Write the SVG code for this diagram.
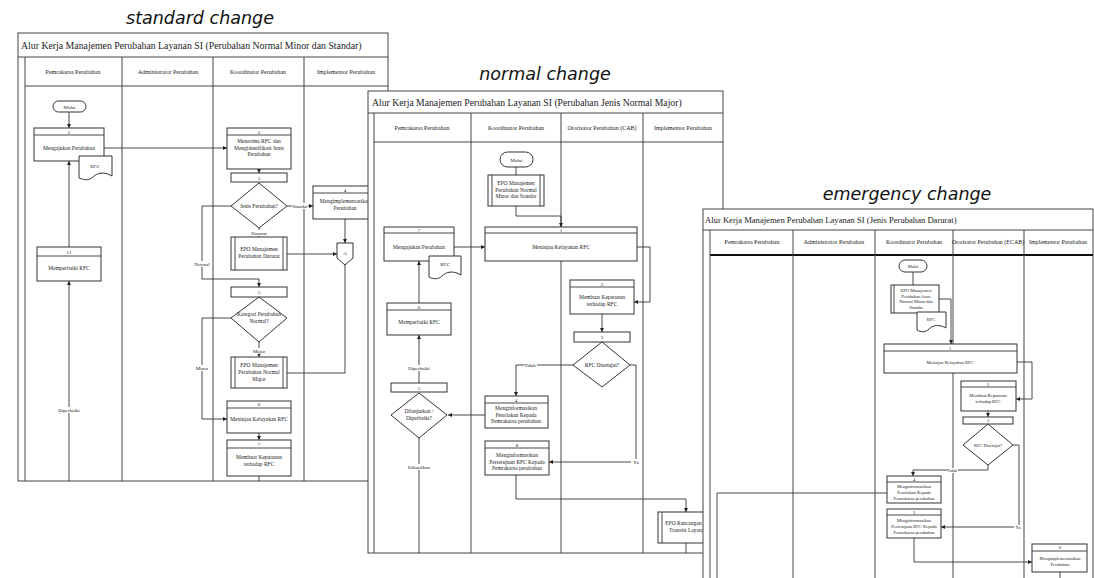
<svg xmlns="http://www.w3.org/2000/svg" width="1094" height="578" viewBox="0 0 1094 578">
  <defs>
    <marker id="ah" viewBox="0 0 6 6" refX="6" refY="3" markerWidth="4" markerHeight="4" orient="auto" markerUnits="userSpaceOnUse">
      <path d="M0,0 L6,3 L0,6 Z" fill="#222"/>
    </marker>
    <style>
      .frame{fill:#fff;stroke:#444;stroke-width:1}
      .ln{fill:none;stroke:#444;stroke-width:1}
      .thick{fill:none;stroke:#111;stroke-width:2}
      .box{fill:#fff;stroke:#333;stroke-width:1}
      .cn{fill:none;stroke:#333;stroke-width:0.9}
      .arr{marker-end:url(#ah)}
      .heading{font-family:"DejaVu Sans",Verdana,sans-serif;font-style:italic;font-size:17.5px;fill:#111;text-anchor:middle}
      .ttl{font-family:"Liberation Serif","Times New Roman",serif;fill:#222}
      .lane{font-family:"Liberation Serif","Times New Roman",serif;font-size:6px;fill:#222;text-anchor:middle}
      .t{font-family:"Liberation Serif","Times New Roman",serif;font-size:5.5px;fill:#222;text-anchor:middle}
      .ts{font-family:"Liberation Serif","Times New Roman",serif;font-size:4.5px;fill:#222;text-anchor:middle}
      .lbl{font-family:"Liberation Serif","Times New Roman",serif;font-size:5px;fill:#222;text-anchor:middle}
      .bg{fill:#fff}
    </style>
  </defs>

  <rect width="1094" height="578" fill="#fff"/>

  <!-- ============ standard change ============ -->
  <g id="page-standard">
    <text class="heading" x="200" y="24">standard change</text>
    <rect class="frame" x="18" y="33" width="370" height="448"/>
    <line class="ln" x1="18" y1="57" x2="388" y2="57"/>
    <line class="ln" x1="25" y1="86" x2="388" y2="86"/>
    <line class="ln" x1="25" y1="57" x2="25" y2="481"/>
    <line class="ln" x1="122" y1="57" x2="122" y2="481"/>
    <line class="ln" x1="213" y1="57" x2="213" y2="481"/>
    <line class="ln" x1="304" y1="57" x2="304" y2="481"/>
    <text class="ttl" x="21" y="49" font-size="9.8">Alur Kerja Manajemen Perubahan Layanan SI (Perubahan Normal Minor dan Standar)</text>
    <text class="lane" x="73" y="74">Pemrakarsa Perubahan</text>
    <text class="lane" x="168" y="74">Administrator Perubahan</text>
    <text class="lane" x="258" y="74">Koordinator Perubahan</text>
    <text class="lane" x="346" y="74">Implementor Perubahan</text>

    <g id="a-connectors">
      <line class="cn arr" x1="69" y1="112" x2="69" y2="128"/>
      <line class="cn arr" x1="104" y1="148" x2="227" y2="148"/>
      <line class="cn arr" x1="259" y1="169" x2="259" y2="173"/>
      <line class="cn arr" x1="287" y1="206" x2="313" y2="206"/>
      <line class="cn arr" x1="259" y1="228" x2="259" y2="237"/>
      <line class="cn arr" x1="287" y1="254" x2="337" y2="254"/>
      <line class="cn arr" x1="345" y1="219" x2="345" y2="243"/>
      <polyline class="cn" points="345,265 345,373 287,373"/>
      <polyline class="cn arr" points="231,206 202,206 202,279 259,279 259,287"/>
      <polyline class="cn arr" points="231,318 202,318 202,419 227,419"/>
      <line class="cn arr" x1="259" y1="342" x2="259" y2="357"/>
      <line class="cn arr" x1="259" y1="433" x2="259" y2="440"/>
      <line class="cn" x1="259" y1="476" x2="259" y2="481"/>
      <line class="cn arr" x1="69" y1="481" x2="69" y2="281"/>
      <line class="cn arr" x1="69" y1="247" x2="69" y2="161"/>
      <rect class="bg" x="292" y="203" width="16" height="6"/>
      <text class="lbl" x="300" y="208">Standar</text>
      <rect class="bg" x="251" y="230" width="16" height="6"/>
      <text class="lbl" x="259" y="235">Darurat</text>
      <rect class="bg" x="195" y="261" width="15" height="6"/>
      <text class="lbl" x="202" y="266">Normal</text>
      <rect class="bg" x="196" y="365" width="13" height="6"/>
      <text class="lbl" x="202" y="370">Minor</text>
      <rect class="bg" x="252" y="348" width="14" height="6"/>
      <text class="lbl" x="259" y="353">Major</text>
      <rect class="bg" x="59" y="407" width="20" height="6"/>
      <text class="lbl" x="69" y="412">Diperbaiki</text>
    </g>

    <g id="a-mulai">
      <rect class="box" x="53" y="101" width="33" height="11" rx="5.5"/>
      <text class="lbl" x="69.5" y="108.5">Mulai</text>
    </g>
    <g id="a-1">
      <rect class="box" x="34" y="128" width="70" height="33"/>
      <line class="cn" x1="34" y1="135" x2="104" y2="135"/>
      <text class="lbl" x="69" y="133.5">1</text>
      <text class="t" x="69" y="150">Mengajukan Perubahan</text>
    </g>
    <g id="a-rfc">
      <path class="box" d="M79,156 H112 V176 C104,171 97,173 93,177 C89,181 84,180 79,178 Z"/>
      <text class="lbl" x="95" y="168">RFC</text>
    </g>
    <g id="a-2">
      <rect class="box" x="227" y="128" width="64" height="41"/>
      <line class="cn" x1="227" y1="135" x2="291" y2="135"/>
      <text class="lbl" x="259" y="133.5">2</text>
      <text class="t" x="259" y="143">Menerima RFC dan</text>
      <text class="t" x="259" y="149.5">Mengidentifikasi Jenis</text>
      <text class="t" x="259" y="156">Perubahan</text>
    </g>
    <g id="a-3">
      <rect class="box" x="231" y="173" width="56" height="9"/>
      <text class="lbl" x="259" y="179.5">3</text>
      <polygon class="box" points="259,183 287,206 259,228 231,206"/>
      <text class="t" x="259" y="208">Jenis Perubahan?</text>
    </g>
    <g id="a-4">
      <rect class="box" x="313" y="186" width="64" height="33"/>
      <line class="cn" x1="313" y1="193" x2="377" y2="193"/>
      <text class="lbl" x="345" y="191.5">4</text>
      <text class="t" x="345" y="203">Mengimplementasikan</text>
      <text class="t" x="345" y="210">Perubahan</text>
    </g>
    <g id="a-epo-darurat">
      <rect class="box" x="231" y="237" width="56" height="33"/>
      <line class="cn" x1="235" y1="237" x2="235" y2="270"/>
      <line class="cn" x1="283" y1="237" x2="283" y2="270"/>
      <text class="t" x="259" y="251">EPO Manajemen</text>
      <text class="t" x="259" y="258">Perubahan Darurat</text>
    </g>
    <g id="a-merge">
      <polygon class="box" points="337,243 353,243 353,258 345,265 337,258"/>
      <text class="lbl" x="345" y="255">A</text>
    </g>
    <g id="a-5">
      <rect class="box" x="231" y="287" width="56" height="10"/>
      <text class="lbl" x="259" y="294">5</text>
      <polygon class="box" points="259,297 287,318 259,342 231,318"/>
      <text class="t" x="259" y="316">Kategori Perubahan</text>
      <text class="t" x="259" y="323">Normal?</text>
    </g>
    <g id="a-epo-major">
      <rect class="box" x="231" y="357" width="56" height="31"/>
      <line class="cn" x1="235" y1="357" x2="235" y2="388"/>
      <line class="cn" x1="283" y1="357" x2="283" y2="388"/>
      <text class="t" x="259" y="367">EPO Manajemen</text>
      <text class="t" x="259" y="374">Perubahan Normal</text>
      <text class="t" x="259" y="381">Major</text>
    </g>
    <g id="a-6">
      <rect class="box" x="227" y="401" width="64" height="32"/>
      <line class="cn" x1="227" y1="408" x2="291" y2="408"/>
      <text class="lbl" x="259" y="406">6</text>
      <text class="t" x="259" y="421">Meninjau Kelayakan RFC</text>
    </g>
    <g id="a-7">
      <rect class="box" x="227" y="440" width="64" height="36"/>
      <line class="cn" x1="227" y1="448" x2="291" y2="448"/>
      <text class="lbl" x="259" y="446">7</text>
      <text class="t" x="259" y="459">Membuat Keputusan</text>
      <text class="t" x="259" y="465.5">terhadap RFC</text>
    </g>
    <g id="a-11">
      <rect class="box" x="37" y="247" width="64" height="34"/>
      <line class="cn" x1="37" y1="256" x2="101" y2="256"/>
      <text class="lbl" x="69" y="253.5">11</text>
      <text class="t" x="69" y="270">Memperbaiki RFC</text>
    </g>
  </g>

  <!-- ============ normal change ============ -->
  <g id="page-normal">
    <text class="heading" x="545" y="80">normal change</text>
    <rect class="frame" x="368" y="91" width="355" height="462"/>
    <line class="ln" x1="368" y1="113" x2="723" y2="113"/>
    <line class="ln" x1="374" y1="142" x2="723" y2="142"/>
    <line class="ln" x1="374" y1="113" x2="374" y2="553"/>
    <line class="ln" x1="471" y1="113" x2="471" y2="553"/>
    <line class="ln" x1="561" y1="113" x2="561" y2="553"/>
    <line class="ln" x1="643" y1="113" x2="643" y2="553"/>
    <text class="ttl" x="372" y="106" font-size="9.7">Alur Kerja Manajemen Perubahan Layanan SI (Perubahan Jenis Normal Major)</text>
    <text class="lane" x="422" y="130">Pemrakarsa Perubahan</text>
    <text class="lane" x="516" y="130">Koordinator Perubahan</text>
    <text class="lane" x="602" y="130">Otorisator Perubahan (CAB)</text>
    <text class="lane" x="683" y="130">Implementor Perubahan</text>

    <g id="b-connectors">
      <line class="cn" x1="516" y1="167" x2="516" y2="175"/>
      <polyline class="cn arr" points="516,206 516,216 561,216 561,227"/>
      <line class="cn arr" x1="454" y1="247" x2="485" y2="247"/>
      <polyline class="cn arr" points="637,247 650,247 650,302 634,302"/>
      <line class="cn arr" x1="602" y1="314" x2="602" y2="332"/>
      <polyline class="cn arr" points="573,365 516,365 516,396"/>
      <line class="cn arr" x1="485" y1="415" x2="448" y2="415"/>
      <line class="cn arr" x1="419" y1="383" x2="419" y2="335"/>
      <line class="cn arr" x1="419" y1="303" x2="419" y2="261"/>
      <line class="cn" x1="419" y1="438" x2="419" y2="553"/>
      <polyline class="cn arr" points="630,365 636,365 636,462 549,462"/>
      <polyline class="cn arr" points="516,475 516,499 686,499 686,512"/>
      <line class="cn" x1="686" y1="543" x2="686" y2="553"/>
      <rect class="bg" x="524" y="362" width="13" height="6"/>
      <text class="lbl" x="530" y="367">Tidak</text>
      <rect class="bg" x="631" y="459" width="9" height="6"/>
      <text class="lbl" x="636" y="464">Ya</text>
      <rect class="bg" x="408" y="365" width="21" height="6"/>
      <text class="lbl" x="419" y="370">Diperbaiki</text>
      <rect class="bg" x="407" y="464" width="24" height="6"/>
      <text class="lbl" x="419" y="469">Dibatalkan</text>
    </g>

    <g id="b-mulai">
      <rect class="box" x="500" y="152" width="33" height="15" rx="7.5"/>
      <text class="lbl" x="516.5" y="161.5">Mulai</text>
    </g>
    <g id="b-epo-minor">
      <rect class="box" x="488" y="175" width="56" height="31"/>
      <line class="cn" x1="492" y1="175" x2="492" y2="206"/>
      <line class="cn" x1="540" y1="175" x2="540" y2="206"/>
      <text class="t" x="516" y="185">EPO Manajemen</text>
      <text class="t" x="516" y="191.5">Perubahan Normal</text>
      <text class="t" x="516" y="198">Minor dan Standar</text>
    </g>
    <g id="b-1">
      <rect class="box" x="485" y="227" width="152" height="34"/>
      <line class="cn" x1="485" y1="233" x2="637" y2="233"/>
      <text class="lbl" x="561" y="231.5">1</text>
      <text class="t" x="561" y="249">Meninjau Kelayakan RFC</text>
    </g>
    <g id="b-7">
      <rect class="box" x="384" y="227" width="70" height="34"/>
      <line class="cn" x1="384" y1="233" x2="454" y2="233"/>
      <text class="lbl" x="419" y="231.5">7</text>
      <text class="t" x="419" y="249">Mengajukan Perubahan</text>
    </g>
    <g id="b-rfc">
      <path class="box" d="M429,256 H461 V275 C453,270 446,272 442,276 C438,280 433,279 429,277 Z"/>
      <text class="lbl" x="445" y="266">RFC</text>
    </g>
    <g id="b-2">
      <rect class="box" x="570" y="280" width="64" height="34"/>
      <line class="cn" x1="570" y1="287" x2="634" y2="287"/>
      <text class="lbl" x="602" y="285.5">2</text>
      <text class="t" x="602" y="299">Membuat Keputusan</text>
      <text class="t" x="602" y="305.5">terhadap RFC</text>
    </g>
    <g id="b-3">
      <rect class="box" x="574" y="332" width="56" height="10"/>
      <text class="lbl" x="602" y="339">3</text>
      <polygon class="box" points="602,342 630,365 602,387 573,365"/>
      <text class="t" x="602" y="367">RFC Disetujui?</text>
    </g>
    <g id="b-4">
      <rect class="box" x="485" y="396" width="63" height="32"/>
      <line class="cn" x1="485" y1="403" x2="548" y2="403"/>
      <text class="lbl" x="516" y="401.5">4</text>
      <text class="t" x="516" y="410">Menginformasikan</text>
      <text class="t" x="516" y="416.5">Penolakan Kepada</text>
      <text class="t" x="516" y="423">Pemrakarsa perubahan</text>
    </g>
    <g id="b-5">
      <rect class="box" x="391" y="383" width="56" height="9"/>
      <text class="lbl" x="419" y="389.5">5</text>
      <polygon class="box" points="419,393 447,415 419,438 391,415"/>
      <text class="t" x="419" y="413">Dilanjutkan /</text>
      <text class="t" x="419" y="420">Diperbaiki?</text>
    </g>
    <g id="b-6">
      <rect class="box" x="387" y="303" width="64" height="32"/>
      <line class="cn" x1="387" y1="310" x2="451" y2="310"/>
      <text class="lbl" x="419" y="308.5">6</text>
      <text class="t" x="419" y="324">Memperbaiki RFC</text>
    </g>
    <g id="b-8">
      <rect class="box" x="485" y="441" width="64" height="34"/>
      <line class="cn" x1="485" y1="448" x2="549" y2="448"/>
      <text class="lbl" x="517" y="446.5">8</text>
      <text class="t" x="517" y="457">Menginformasikan</text>
      <text class="t" x="517" y="463.5">Persetujuan RFC Kepada</text>
      <text class="t" x="517" y="470">Pemrakarsa perubahan</text>
    </g>
    <g id="b-epo-rancangan">
      <rect class="box" x="658" y="512" width="56" height="31"/>
      <line class="cn" x1="662" y1="512" x2="662" y2="543"/>
      <text class="t" x="688" y="525">EPO Rancangan dan</text>
      <text class="t" x="688" y="531.5">Transisi Layanan</text>
    </g>
  </g>

  <!-- ============ emergency change ============ -->
  <g id="page-emergency">
    <text class="heading" x="907" y="200">emergency change</text>
    <rect class="frame" x="703" y="209" width="390" height="380"/>
    <line class="ln" x1="703" y1="230" x2="1093" y2="230"/>
    <line class="thick" x1="710" y1="255" x2="1093" y2="255"/>
    <line class="ln" x1="710" y1="230" x2="710" y2="578"/>
    <line class="ln" x1="793" y1="230" x2="793" y2="578"/>
    <line class="ln" x1="875" y1="230" x2="875" y2="578"/>
    <line class="ln" x1="953" y1="230" x2="953" y2="578"/>
    <line class="ln" x1="1024" y1="230" x2="1024" y2="578"/>
    <text class="ttl" x="705" y="223" font-size="8.6">Alur Kerja Manajemen Perubahan Layanan SI (Jenis Perubahan Darurat)</text>
    <text class="lane" x="752" y="244" font-size="5.3">Pemrakarsa Perubahan</text>
    <text class="lane" x="834" y="244" font-size="5.3">Administrator Perubahan</text>
    <text class="lane" x="914" y="244" font-size="5.3">Koordinator Perubahan</text>
    <text class="lane" x="988" y="244" font-size="5.3">Otorisator Perubahan (ECAB)</text>
    <text class="lane" x="1058" y="244" font-size="5.3">Implementor Perubahan</text>

    <g id="c-connectors">
      <line class="cn" x1="913" y1="272" x2="913" y2="285"/>
      <polyline class="cn arr" points="939,299 951,299 951,344"/>
      <polyline class="cn arr" points="1017,362 1032,362 1032,399 1016,399"/>
      <line class="cn arr" x1="988" y1="411" x2="988" y2="417"/>
      <polyline class="cn arr" points="988,465 988,470 913,470 913,476"/>
      <polyline class="cn" points="887,493 717,493 717,578"/>
      <polyline class="cn arr" points="1013,445 1019,445 1019,527 941,527"/>
      <polyline class="cn arr" points="914,538 914,562 1032,562"/>
      <line class="cn" x1="1060" y1="572" x2="1060" y2="578"/>
      <rect class="bg" x="947" y="468" width="11" height="5"/>
      <text class="ts" x="952" y="472">Tidak</text>
      <rect class="bg" x="1014" y="525" width="8" height="5"/>
      <text class="ts" x="1018" y="529">Ya</text>
    </g>

    <g id="c-mulai">
      <rect class="box" x="899" y="260" width="28" height="12" rx="6"/>
      <text class="ts" x="913" y="267.5">Mulai</text>
    </g>
    <g id="c-epo-minor">
      <rect class="box" x="891" y="285" width="48" height="28"/>
      <line class="cn" x1="894" y1="285" x2="894" y2="313"/>
      <text class="ts" x="916" y="292">EPO Manajemen</text>
      <text class="ts" x="916" y="297.5">Perubahan Jenis</text>
      <text class="ts" x="916" y="303">Normal Minor dan</text>
      <text class="ts" x="916" y="308.5">Standar</text>
    </g>
    <g id="c-rfc">
      <path class="box" d="M917,312 H946 V328 C939,324 933,325 929,329 C925,333 921,332 917,330 Z"/>
      <text class="ts" x="931" y="321">RFC</text>
    </g>
    <g id="c-1">
      <rect class="box" x="884" y="344" width="133" height="29"/>
      <line class="cn" x1="884" y1="351" x2="1017" y2="351"/>
      <text class="ts" x="950" y="349.5">1</text>
      <text class="ts" x="950" y="364">Meninjau Kelayakan RFC</text>
    </g>
    <g id="c-2">
      <rect class="box" x="961" y="381" width="55" height="30"/>
      <line class="cn" x1="961" y1="387" x2="1016" y2="387"/>
      <text class="ts" x="988" y="385.5">2</text>
      <text class="ts" x="988" y="397">Membuat Keputusan</text>
      <text class="ts" x="988" y="403">terhadap RFC</text>
    </g>
    <g id="c-3">
      <rect class="box" x="963" y="417" width="50" height="7"/>
      <text class="ts" x="988" y="422">3</text>
      <polygon class="box" points="988,424 1013,445 988,465 963,445"/>
      <text class="ts" x="988" y="446.5">RFC Disetujui?</text>
    </g>
    <g id="c-4">
      <rect class="box" x="887" y="476" width="54" height="27"/>
      <line class="cn" x1="887" y1="482" x2="941" y2="482"/>
      <text class="ts" x="914" y="480.5">4</text>
      <text class="ts" x="914" y="488">Menginformasikan</text>
      <text class="ts" x="914" y="494">Penolakan Kepada</text>
      <text class="ts" x="914" y="500">Pemrakarsa perubahan</text>
    </g>
    <g id="c-5">
      <rect class="box" x="887" y="509" width="54" height="29"/>
      <line class="cn" x1="887" y1="515" x2="941" y2="515"/>
      <text class="ts" x="914" y="513.5">5</text>
      <text class="ts" x="914" y="522">Menginformasikan</text>
      <text class="ts" x="914" y="528">Persetujuan RFC Kepada</text>
      <text class="ts" x="914" y="534">Pemrakarsa perubahan</text>
    </g>
    <g id="c-6">
      <rect class="box" x="1032" y="544" width="55" height="28"/>
      <line class="cn" x1="1032" y1="551" x2="1087" y2="551"/>
      <text class="ts" x="1060" y="549">6</text>
      <text class="ts" x="1060" y="559.5">Mengimplementasikan</text>
      <text class="ts" x="1060" y="566">Perubahan</text>
    </g>
  </g>
</svg>
